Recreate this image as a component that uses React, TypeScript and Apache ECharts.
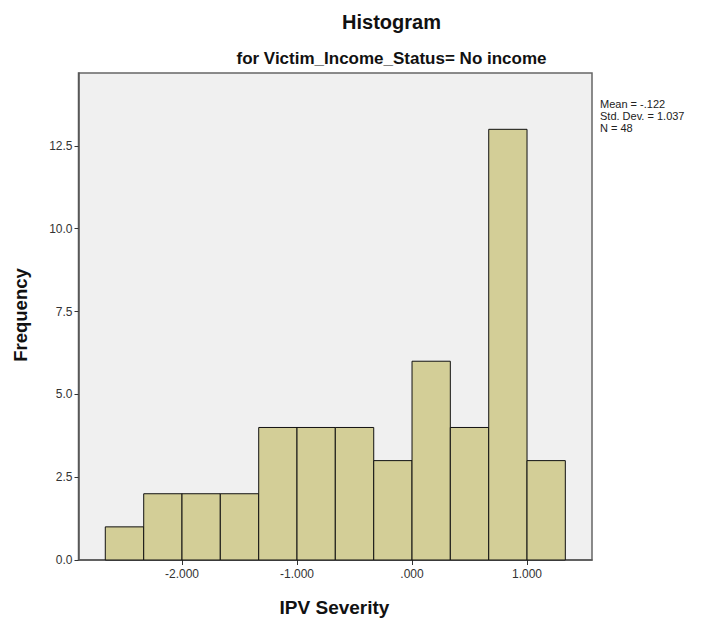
import React, { useEffect, useRef } from "react";
import * as echarts from "echarts";

const binEdges = [-2.667, -2.333, -2.0, -1.667, -1.333, -1.0, -0.667, -0.333, 0.0, 0.333, 0.667, 1.0, 1.333];
const frequencies = [1, 2, 2, 2, 4, 4, 4, 3, 6, 4, 13, 3];
const xTicks = [-2, -1, 0, 1];
const yTicks = [0, 2.5, 5, 7.5, 10, 12.5];
const statLines = ["Mean = -.122", "Std. Dev. = 1.037", "N = 48"];
const titleText = "Histogram";
const subtitleText = "for Victim_Income_Status= No income";
const xName = "IPV Severity";
const yName = "Frequency";

const FONT = "'Liberation Sans', Arial, sans-serif";

function fmtX(v: number): string {
  const s = v.toFixed(3);
  if (s === "0.000" || s === "-0.000") return ".000";
  return s;
}

export default function App() {
  const ref = useRef<HTMLDivElement>(null);
  useEffect(() => {
    if (!ref.current) return;
    const chart = echarts.init(ref.current, null, { renderer: "svg" });
    const data = frequencies.map((f, i) => [binEdges[i], binEdges[i + 1], f]);
    const bold = (size: number) => `bold ${size}px ${FONT}`;
    chart.setOption({
      animation: false,
      backgroundColor: "#ffffff",
      grid: {
        left: 78.5,
        right: 118,
        top: 73,
        bottom: 61,
        show: true,
        backgroundColor: "#F0F0F0",
        borderColor: "#666",
        borderWidth: 1.5,
      },
      xAxis: {
        type: "value",
        min: -2.9,
        max: 1.565,
        axisLine: { show: true, onZero: false, lineStyle: { color: "#555", width: 1.5 } },
        axisTick: { show: true, length: 5, customValues: xTicks, lineStyle: { color: "#333" } },
        axisLabel: {
          customValues: xTicks,
          formatter: (v: number) => fmtX(v),
          fontFamily: FONT,
          fontSize: 12,
          color: "#333",
          margin: 8,
        },
        splitLine: { show: false },
      },
      yAxis: {
        type: "value",
        min: 0,
        max: 14.7,
        axisLine: { show: true, onZero: false, lineStyle: { color: "#555", width: 1.5 } },
        axisTick: { show: true, length: 4, customValues: yTicks, lineStyle: { color: "#333" } },
        axisLabel: {
          customValues: yTicks,
          formatter: (v: number) => v.toFixed(1),
          fontFamily: FONT,
          fontSize: 12,
          color: "#333",
          margin: 6,
        },
        splitLine: { show: false },
      },
      graphic: [
        {
          type: "text",
          x: 391.5,
          y: 22,
          style: { text: titleText, font: bold(20), fill: "#111", align: "center", verticalAlign: "middle" },
        },
        {
          type: "text",
          x: 391.5,
          y: 58,
          style: { text: subtitleText, font: bold(17), fill: "#111", align: "center", verticalAlign: "middle" },
        },
        {
          type: "text",
          x: 334.5,
          y: 607,
          style: { text: xName, font: bold(19), fill: "#111", align: "center", verticalAlign: "middle" },
        },
        {
          type: "text",
          x: 20.5,
          y: 315,
          rotation: Math.PI / 2,
          style: { text: yName, font: bold(18.5), fill: "#111", align: "center", verticalAlign: "middle" },
        },
        ...statLines.map((t, i) => ({
          type: "text",
          x: 600,
          y: 104 + i * 12,
          style: { text: t, font: `11px ${FONT}`, fill: "#222", verticalAlign: "middle" },
        })),
      ],
      series: [
        {
          type: "custom",
          data,
          encode: { x: [0, 1], y: 2 },
          renderItem: (params: any, api: any) => {
            const p0 = api.coord([api.value(0), 0]);
            const p1 = api.coord([api.value(1), api.value(2)]);
            return {
              type: "rect",
              shape: { x: p0[0], y: p1[1], width: p1[0] - p0[0], height: p0[1] - p1[1] },
              style: { fill: "#D3CE97", stroke: "#111", lineWidth: 1 },
            };
          },
        },
      ],
    });
    return () => chart.dispose();
  }, []);
  return (
    <div
      ref={ref}
      style={{ position: "absolute", left: 0, top: 0, width: 710, height: 621 }}
    />
  );
}
